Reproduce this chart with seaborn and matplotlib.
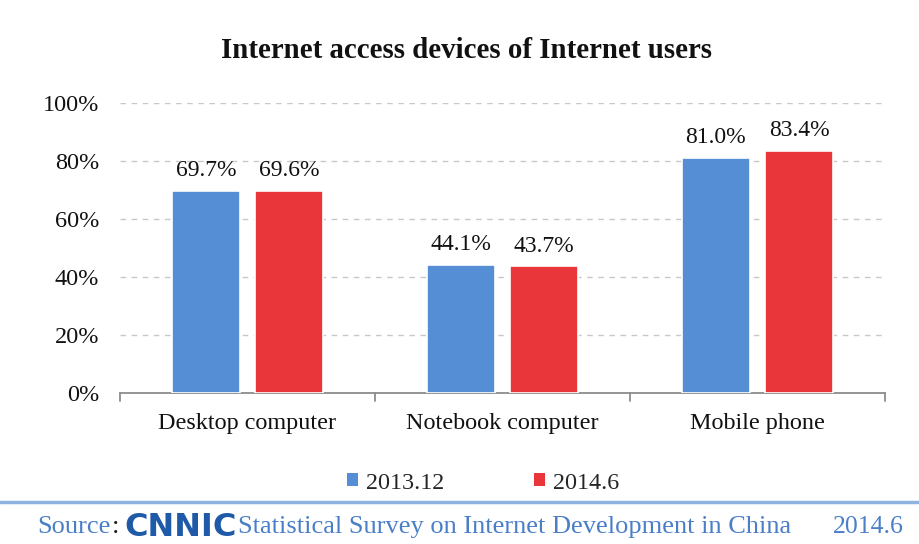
import matplotlib
matplotlib.use("Agg")
import matplotlib.pyplot as plt
import seaborn as sns
import pandas as pd
from matplotlib.patches import Rectangle
from matplotlib.lines import Line2D

categories = ["Desktop computer", "Notebook computer", "Mobile phone"]
series = ["2013.12", "2014.6"]
values_2013_12 = [69.7, 44.1, 81.0]
values_2014_6 = [69.6, 43.7, 83.4]
y_ticks = [0, 20, 40, 60, 80, 100]
colors = ["#558ed5", "#e8363a"]

df = pd.DataFrame({
    "device": categories * 2,
    "period": [series[0]] * 3 + [series[1]] * 3,
    "share": values_2013_12 + values_2014_6,
})

sns.set_theme(style="white")
plt.rcParams["font.family"] = ["Liberation Serif", "DejaVu Serif"]

fig = plt.figure(figsize=(9.2, 5.44), dpi=100)
fig.patch.set_facecolor("white")

ax = fig.add_axes([0.1304, 0.2776, 0.8315, 0.5331])
ax.set_facecolor("none")

sns.barplot(data=df, x="device", y="share", hue="period", order=categories,
            hue_order=series, palette=colors, width=0.652, gap=0.19,
            saturation=1, edgecolor="white", linewidth=1.2, ax=ax, legend=False,
            zorder=3)

for container in ax.containers:
    ax.bar_label(container, labels=[f"{v:.1f}%" for v in container.datavalues],
                 padding=7, fontsize=17, color="#111111")

ax.set_ylim(0, 100)
ax.set_xlim(-0.5, 2.5)
ax.set_yticks(y_ticks)
ax.set_yticklabels([f"{t}%" for t in y_ticks], fontsize=17.5)
ax.yaxis.grid(True, linestyle=(0, (4, 4)), color="#c8c8c8", linewidth=1)
ax.set_axisbelow(True)
ax.set_xlabel("")
ax.set_ylabel("")
ax.tick_params(axis="y", length=0, pad=15, labelcolor="#111111")
ax.tick_params(axis="x", length=0, pad=14.5, labelsize=17.4, labelcolor="#111111")

for side in ["left", "right", "top"]:
    ax.spines[side].set_visible(False)
ax.spines["bottom"].set_color("#8c8c8c")
ax.spines["bottom"].set_linewidth(1.3)

# category boundary ticks on the baseline
for b in [-0.5, 0.5, 1.5, 2.5]:
    ax.plot([b, b], [0, -2.6], color="#8c8c8c", lw=1.3, clip_on=False, zorder=4)

fig.text(0.507, 0.908, "Internet access devices of Internet users", ha="center",
         va="center", fontsize=20.8, fontweight="bold", color="#111111")

handles = [Rectangle((0, 0), 1, 1, facecolor=c, edgecolor="none") for c in colors]
fig.legend(handles, series, loc="center", bbox_to_anchor=(0.525, 0.112), ncol=2,
           frameon=False, fontsize=17.4, handlelength=0.45, handleheight=0.45,
           handletextpad=0.35, columnspacing=3.7)

# source footer with rule above
fig.add_artist(Line2D([0, 1], [0.077, 0.077], color="#8fb3e0", lw=2.5,
                      transform=fig.transFigure))
src = fig.text(0.04, 0.031, "Source", ha="left", va="center", fontsize=19,
               color="#4a7fc8")
fig.text(0.135, 0.031, "CNNIC", ha="left", va="center", fontsize=23,
         fontweight="heavy", color="#1f5aa8", family="DejaVu Sans")
fig.text(0.259, 0.031, "Statistical Survey on Internet Development in China",
         ha="left", va="center", fontsize=19, color="#4a7fc8")
fig.text(0.982, 0.031, "2014.6", ha="right", va="center", fontsize=18.5,
         color="#4a7fc8")
ax.annotate(":", xy=(1, 0.5), xycoords=src, xytext=(1, 0),
            textcoords="offset points", ha="left", va="center", fontsize=19,
            color="#1a1a1a", annotation_clip=False)

fig.savefig("out.png", dpi=100, facecolor="white")
